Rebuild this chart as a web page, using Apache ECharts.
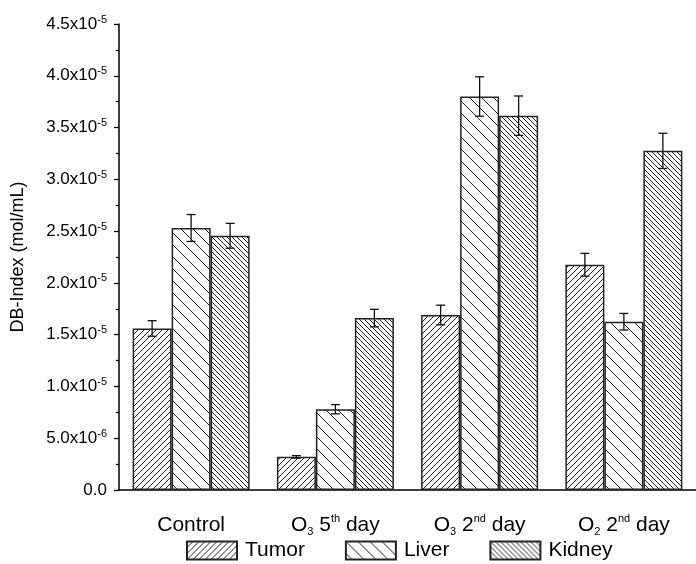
<!DOCTYPE html>
<html>
<head>
<meta charset="utf-8">
<script src="https://cdn.jsdelivr.net/npm/echarts@6/dist/echarts.min.js"></script>
<style>
  html, body { margin: 0; padding: 0; background: #fff; }
  #dbindex { width: 696px; height: 564px; }
</style>
</head>
<body>
<div id="dbindex"></div>
<script>
// groups on the x axis
const categories = ["Control", "O3 5th day", "O3 2nd day", "O2 2nd day"];
const categoryLabels = [
  "{n|Control}",
  "{n|O}{sub|3}{n| 5}{sup|th}{n| day}",
  "{n|O}{sub|3}{n| 2}{sup|nd}{n| day}",
  "{n|O}{sub|2}{n| 2}{sup|nd}{n| day}"
];
const seriesNames = ["Tumor", "Liver", "Kidney"];

// DB-Index (mol/mL)
const tumor = [1.56e-5, 0.32e-5, 1.69e-5, 2.175e-5];
const tumorErr = [0.075e-5, 0.012e-5, 0.095e-5, 0.11e-5];
const liver = [2.53e-5, 0.78e-5, 3.80e-5, 1.625e-5];
const liverErr = [0.13e-5, 0.045e-5, 0.19e-5, 0.08e-5];
const kidney = [2.455e-5, 1.66e-5, 3.615e-5, 3.275e-5];
const kidneyErr = [0.12e-5, 0.085e-5, 0.19e-5, 0.17e-5];

const BAR_W = 39;
const FONT = "Liberation Sans";

// diagonal hatch tile
function hatch(p, dir) {
  const c = document.createElement("canvas");
  c.width = p; c.height = p;
  const ctx = c.getContext("2d");
  ctx.fillStyle = "#fff";
  ctx.fillRect(0, 0, p, p);
  ctx.strokeStyle = "#222";
  ctx.lineWidth = 1;
  ctx.beginPath();
  if (dir === "/") {
    ctx.moveTo(-1, p + 1); ctx.lineTo(p + 1, -1);
    ctx.moveTo(-1, 1); ctx.lineTo(1, -1);
    ctx.moveTo(p - 1, p + 1); ctx.lineTo(p + 1, p - 1);
  } else {
    ctx.moveTo(-1, -1); ctx.lineTo(p + 1, p + 1);
    ctx.moveTo(p - 1, -1); ctx.lineTo(p + 1, 1);
    ctx.moveTo(-1, p - 1); ctx.lineTo(1, p + 1);
  }
  ctx.stroke();
  return c;
}

const fills = [
  { image: hatch(6, "/"), repeat: "repeat" },
  { image: hatch(12, "\\"), repeat: "repeat" },
  { image: hatch(5, "\\"), repeat: "repeat" }
];

const values = [tumor, liver, kidney];
const errors = [tumorErr, liverErr, kidneyErr];

const yLabel = (v) => {
  if (v === 0) return "{m|0.0}";
  const parts = v.toExponential(1).split("e");
  return "{m|" + parts[0] + "x10}{s|" + parts[1] + "}";
};

const setSeries = () => {
  let out = [];
  for (let k = 0; k < 3; k++) {
    out.push({
      name: seriesNames[k],
      type: "bar",
      barWidth: BAR_W,
      barGap: "0%",
      itemStyle: { color: fills[k], borderColor: "#222", borderWidth: 1.5 },
      data: values[k]
    });
  }
  for (let k = 0; k < 3; k++) {
    out.push({
      type: "custom",
      silent: true,
      z: 5,
      data: values[k].map((v, i) => [i, v, errors[k][i]]),
      renderItem: function (params, api) {
        const i = api.value(0);
        const v = api.value(1);
        const e = api.value(2);
        const off = (k - 1) * BAR_W;
        const top = api.coord([i, v + e]);
        const bot = api.coord([i, v - e]);
        const x = top[0] + off;
        const cap = 4.5;
        return {
          type: "group",
          children: [
            { type: "line", shape: { x1: x, y1: top[1], x2: x, y2: bot[1] }, style: { stroke: "#111", lineWidth: 1.3 } },
            { type: "line", shape: { x1: x - cap, y1: top[1], x2: x + cap, y2: top[1] }, style: { stroke: "#111", lineWidth: 1.3 } },
            { type: "line", shape: { x1: x - cap, y1: bot[1], x2: x + cap, y2: bot[1] }, style: { stroke: "#111", lineWidth: 1.3 } }
          ]
        };
      }
    });
  }
  return out;
};

const myChart = echarts.init(document.getElementById("dbindex"));
const option = {
  animation: false,
  textStyle: { fontFamily: FONT, color: "#000" },
  grid: { left: 119, right: -7, top: 24, bottom: 74 },
  legend: {
    data: seriesNames,
    icon: "rect",
    left: 181,
    top: 535,
    itemWidth: 50,
    itemHeight: 18,
    itemGap: 40,
    textStyle: { fontFamily: FONT, fontSize: 21, color: "#000", padding: [0, 0, 0, 3] }
  },
  xAxis: [
    {
      type: "category",
      data: categories,
      axisLine: { lineStyle: { color: "#000", width: 1.5 } },
      axisTick: { alignWithLabel: true, length: 7, lineStyle: { color: "#000", width: 1.3 } },
      axisLabel: {
        interval: 0,
        margin: 23,
        formatter: (val, idx) => categoryLabels[idx],
        rich: {
          n: { fontFamily: FONT, fontSize: 21, lineHeight: 24, color: "#000" },
          sub: { fontFamily: FONT, fontSize: 11, lineHeight: 11, color: "#000", verticalAlign: "bottom" },
          sup: { fontFamily: FONT, fontSize: 11, lineHeight: 11, color: "#000", verticalAlign: "top" }
        }
      }
    },
    {
      type: "category",
      data: categories,
      position: "bottom",
      axisLine: { show: false },
      axisTick: { length: 4, lineStyle: { color: "#000", width: 1.3 } },
      axisLabel: { show: false }
    }
  ],
  yAxis: {
    type: "value",
    min: 0,
    max: 4.5e-5,
    interval: 0.5e-5,
    name: "DB-Index (mol/mL)",
    nameLocation: "middle",
    nameGap: 92,
    nameTextStyle: { fontFamily: FONT, fontSize: 18, color: "#000" },
    splitLine: { show: false },
    axisLine: { show: true, lineStyle: { color: "#000", width: 1.5 } },
    axisTick: { show: true, length: 5, lineStyle: { color: "#000", width: 1.3 } },
    minorTick: { show: true, splitNumber: 2, length: 3, lineStyle: { color: "#000", width: 1.3 } },
    axisLabel: {
      margin: 12,
      formatter: yLabel,
      rich: {
        m: { fontFamily: FONT, fontSize: 17, lineHeight: 20, color: "#000" },
        s: { fontFamily: FONT, fontSize: 11, lineHeight: 11, color: "#000", verticalAlign: "top" }
      }
    }
  },
  series: setSeries()
};
myChart.setOption(option);
</script>
</body>
</html>
